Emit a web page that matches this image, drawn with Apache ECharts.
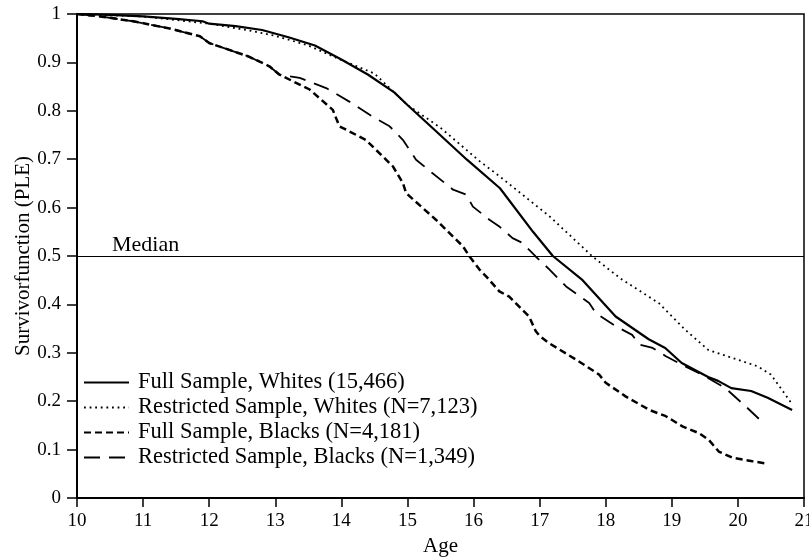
<!DOCTYPE html>
<html>
<head>
<meta charset="utf-8">
<script src="https://cdn.jsdelivr.net/npm/echarts@6/dist/echarts.min.js"></script>
<style>
html,body{margin:0;padding:0;background:#fff;}
#chart{width:809px;height:557px;}
</style>
</head>
<body>
<div id="chart"></div>
<script>
// ---- Data ----
const seriesNames = [
  'Full Sample, Whites (15,466)',
  'Restricted Sample, Whites (N=7,123)',
  'Full Sample, Blacks (N=4,181)',
  'Restricted Sample, Blacks (N=1,349)'
];

const fullWhitesAge = [10, 10.5, 11, 11.5, 11.9, 12.0, 12.4, 12.8, 13.2, 13.6, 14.0, 14.4, 14.8, 15.0, 15.4, 15.9, 16.4, 16.9, 17.2, 17.65, 18.15, 18.65, 18.9, 19.15, 19.55, 19.7, 19.9, 20.2, 20.45, 20.82];
const fullWhitesVal = [1, 0.998, 0.995, 0.99, 0.985, 0.98, 0.975, 0.967, 0.952, 0.935, 0.906, 0.875, 0.838, 0.812, 0.762, 0.699, 0.64, 0.55, 0.5, 0.45, 0.375, 0.328, 0.31, 0.279, 0.25, 0.242, 0.227, 0.221, 0.207, 0.182];

const restWhitesAge = [10, 11, 12, 12.6, 13.0, 13.5, 14.0, 14.5, 15.0, 15.5, 16.1, 16.4, 17.15, 17.8, 18.05, 18.25, 18.8, 19.2, 19.55, 19.9, 20.3, 20.5, 20.82];
const restWhitesVal = [1, 0.995, 0.98, 0.966, 0.955, 0.935, 0.905, 0.877, 0.812, 0.765, 0.695, 0.664, 0.582, 0.499, 0.472, 0.451, 0.403, 0.348, 0.306, 0.29, 0.272, 0.255, 0.194];

const fullBlacksAge = [10, 10.35, 10.85, 11.4, 11.86, 12.0, 12.6, 12.91, 13.06, 13.52, 13.87, 13.97, 14.37, 14.78, 14.93, 14.98, 15.43, 15.84, 15.94, 16.09, 16.19, 16.39, 16.54, 16.84, 16.94, 17.0, 17.14, 17.55, 17.9, 18.0, 18.3, 18.66, 18.91, 19.16, 19.41, 19.56, 19.71, 19.92, 20.22, 20.4];
const fullBlacksVal = [1, 0.995, 0.985, 0.97, 0.954, 0.94, 0.912, 0.892, 0.875, 0.844, 0.802, 0.768, 0.74, 0.685, 0.651, 0.63, 0.575, 0.52, 0.499, 0.472, 0.458, 0.427, 0.416, 0.375, 0.345, 0.335, 0.32, 0.286, 0.255, 0.238, 0.21, 0.182, 0.169, 0.148, 0.134, 0.12, 0.096, 0.083, 0.076, 0.072];

const restBlacksAge = [10, 10.35, 10.85, 11.4, 11.86, 12.0, 12.6, 12.91, 13.06, 13.37, 13.77, 14.12, 14.47, 14.73, 14.93, 15.13, 15.38, 15.69, 15.89, 15.99, 16.24, 16.39, 16.59, 16.74, 16.94, 17.15, 17.4, 17.75, 17.85, 18.15, 18.4, 18.51, 18.71, 18.91, 19.16, 19.51, 19.81, 20.12, 20.4];
const restBlacksVal = [1, 0.995, 0.985, 0.97, 0.954, 0.94, 0.912, 0.892, 0.875, 0.868, 0.847, 0.819, 0.788, 0.768, 0.74, 0.699, 0.671, 0.637, 0.627, 0.602, 0.575, 0.561, 0.537, 0.527, 0.499, 0.472, 0.437, 0.403, 0.382, 0.355, 0.337, 0.317, 0.31, 0.293, 0.275, 0.251, 0.227, 0.189, 0.153];

const medianValue = 0.5;
const medianLabel = 'Median';
const xTitle = 'Age';
const yTitle = 'Survivorfunction (PLE)';

// ---- Build ----
function pairs(xs, ys) { return xs.map((x, i) => [x, ys[i]]); }
const FONT = 'Liberation Serif';

const styles = [
  { width: 2.2, type: 'solid' },
  { width: 1.8, type: [1.8, 3.8] },
  { width: 2.5, type: [7, 4] },
  { width: 1.8, type: [16, 9] }
];
const datasets = [
  pairs(fullWhitesAge, fullWhitesVal),
  pairs(restWhitesAge, restWhitesVal),
  pairs(fullBlacksAge, fullBlacksVal),
  pairs(restBlacksAge, restBlacksVal)
];

const series = datasets.map((d, i) => ({
  name: seriesNames[i],
  type: 'line',
  data: d,
  symbol: 'none',
  smooth: false,
  z: 5 - i,
  lineStyle: { color: '#000', width: styles[i].width, type: styles[i].type },
  itemStyle: { color: '#000' }
}));

series[0].markLine = {
  silent: true,
  symbol: ['none', 'none'],
  lineStyle: { color: '#000', width: 1.2, type: 'solid' },
  label: {
    show: true,
    position: 'insideStartTop',
    formatter: medianLabel,
    fontFamily: FONT,
    fontSize: 22,
    color: '#000',
    distance: [35, 0]
  },
  data: [{ yAxis: medianValue }]
};

const chart = echarts.init(document.getElementById('chart'), null, { renderer: 'canvas' });
chart.setOption({
  animation: false,
  backgroundColor: '#fff',
  grid: {
    left: 77, right: 5, top: 14, bottom: 59,
    outerBoundsMode: 'none',
    containLabel: false,
    show: true, borderColor: '#000', borderWidth: 1.5, backgroundColor: 'transparent'
  },
  legend: {
    orient: 'vertical',
    left: 83,
    top: 371,
    itemWidth: 45,
    itemHeight: 14,
    itemGap: 2,
    padding: 0,
    data: seriesNames,
    itemStyle: { opacity: 0 },
    textStyle: { fontFamily: FONT, fontSize: 22.5, color: '#000', lineHeight: 22.5, padding: [0, 0, 0, 4] },
    selectedMode: false
  },
  xAxis: {
    type: 'value',
    min: 10, max: 21, interval: 1,
    name: xTitle,
    nameLocation: 'middle',
    nameGap: 37,
    nameTextStyle: { fontFamily: FONT, fontSize: 21, color: '#000' },
    axisLine: { show: true, lineStyle: { color: '#000', width: 2 } },
    axisTick: { show: true, inside: false, length: 9, lineStyle: { color: '#000', width: 1.5 } },
    axisLabel: { fontFamily: FONT, fontSize: 19, color: '#000', margin: 14 },
    splitLine: { show: false }
  },
  yAxis: {
    type: 'value',
    min: 0, max: 1, interval: 0.1,
    name: yTitle,
    nameLocation: 'middle',
    nameGap: 43,
    nameMoveOverlap: false,
    nameTextStyle: { fontFamily: FONT, fontSize: 21, color: '#000' },
    axisLine: { show: true, lineStyle: { color: '#000', width: 2 } },
    axisTick: { show: true, inside: false, length: 10, lineStyle: { color: '#000', width: 1.5 } },
    axisLabel: { fontFamily: FONT, fontSize: 19, color: '#000', margin: 16 },
    splitLine: { show: false }
  },
  series: series
});
</script>
</body>
</html>
